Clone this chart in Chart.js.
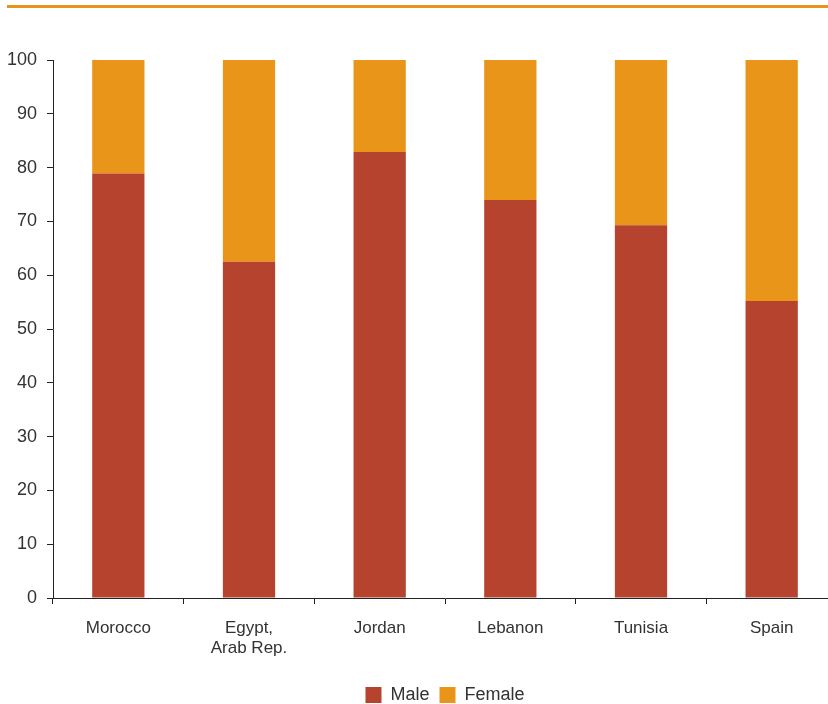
<!DOCTYPE html>
<html><head><meta charset="utf-8">
<script src="https://cdn.jsdelivr.net/npm/chart.js@4/dist/chart.umd.min.js"></script>
<style>
html,body{margin:0;padding:0;background:#fff;overflow:hidden;width:828px;height:704px;}
#topline{position:absolute;left:7px;top:5px;width:821px;height:0;border-top:3px solid #E8961A;}
#wrap{position:absolute;left:0;top:0;width:840px;height:704px;}
</style></head>
<body>
<div id="topline"></div>
<div id="wrap"><canvas id="c" width="840" height="704"></canvas></div>
<script>
const categories = ['Morocco', ['Egypt,', 'Arab Rep.'], 'Jordan', 'Lebanon', 'Tunisia', 'Spain'];
const maleValues = [78.9, 62.5, 82.9, 74.0, 69.3, 55.2];
const femaleValues = [21.1, 37.5, 17.1, 26.0, 30.7, 44.8];
const seriesNames = ['Male', 'Female'];
const yTicks = {min: 0, max: 100, step: 10};

const FONT = '"Liberation Sans", Arial, sans-serif';
const TXT = '#333333';
const AX = '#222222';

const legendShift = {
  id: 'legendShift',
  afterLayout(chart) {
    const lg = chart.legend;
    const dx = (chart.chartArea.left + chart.chartArea.right) / 2 - (lg.left + lg.right) / 2;
    const dy = 12;
    lg.left += dx; lg.right += dx; lg.top += dy; lg.bottom += dy;
    if (lg.legendHitBoxes) lg.legendHitBoxes.forEach(b => { b.left += dx; b.top += dy; });
  }
};

new Chart(document.getElementById('c'), {
  type: 'bar',
  data: {
    labels: categories,
    datasets: [
      {label: seriesNames[0], data: maleValues, backgroundColor: '#B5432D', borderWidth: 0, inflateAmount: 0},
      {label: seriesNames[1], data: femaleValues, backgroundColor: '#E8951A', borderWidth: 0, inflateAmount: 0}
    ]
  },
  options: {
    responsive: false,
    animation: false,
    devicePixelRatio: 1,
    layout: {padding: {top: 60, right: 3, left: 0, bottom: 2}},
    datasets: {bar: {barPercentage: 0.4, categoryPercentage: 1.0}},
    plugins: {
      tooltip: {enabled: false},
      legend: {
        position: 'bottom',
        labels: {
          boxWidth: 16, boxHeight: 16, padding: 10,
          color: TXT,
          font: {family: FONT, size: 18}
        }
      }
    },
    scales: {
      x: {
        stacked: true,
        grid: {display: true, drawOnChartArea: false, drawTicks: true, tickLength: 6, color: AX, lineWidth: 1},
        border: {display: true, color: AX, width: 1},
        ticks: {color: TXT, font: {family: FONT, size: 17, lineHeight: 1.2}, padding: 14, maxRotation: 0, autoSkip: false},
        afterFit(s) { s.height = 66; }
      },
      y: {
        stacked: true,
        min: yTicks.min, max: yTicks.max,
        grid: {display: true, drawOnChartArea: false, drawTicks: true, tickLength: 6, color: AX, lineWidth: 1},
        border: {display: true, color: AX, width: 1},
        ticks: {stepSize: yTicks.step, color: TXT, font: {family: FONT, size: 18}, padding: 10},
        afterFit(s) { s.width = 53; }
      }
    }
  },
  plugins: [legendShift]
});
</script>
</body></html>
